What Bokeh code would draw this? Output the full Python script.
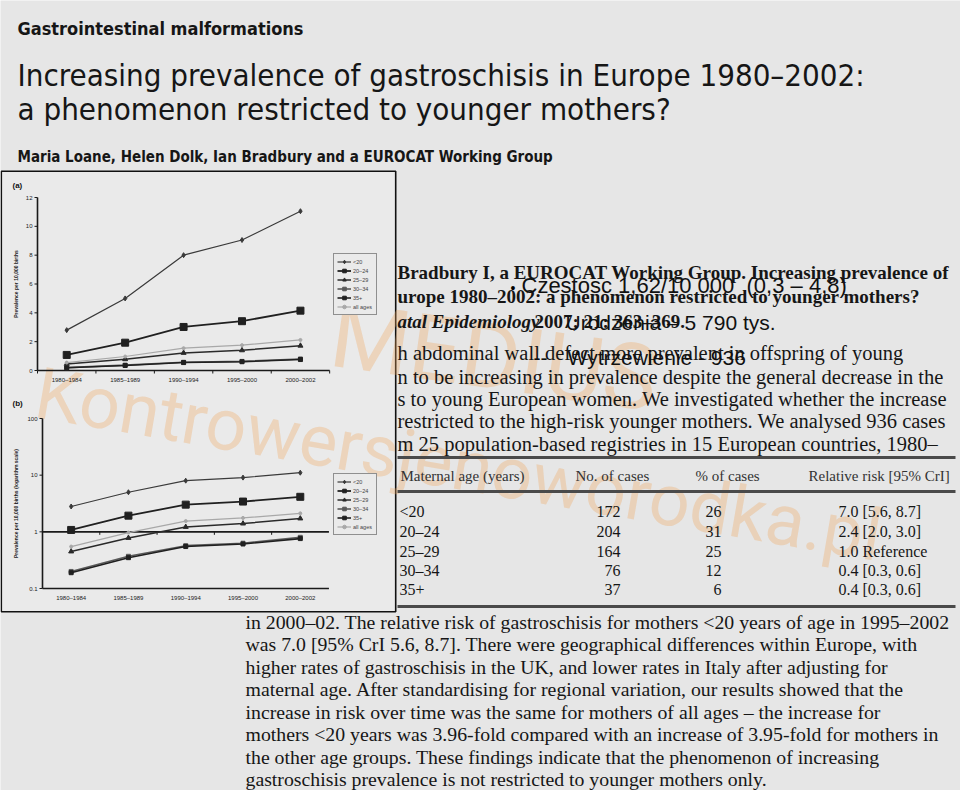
import math
from bokeh.plotting import figure
from bokeh.models import (Range1d, Legend, LegendItem, ColumnDataSource, LinearScale, LogScale)
from bokeh.core.properties import value
from bokeh.embed import file_html
from bokeh.resources import INLINE

# ---------------- data ----------------
periods = ["1980–1984", "1985–1989", "1990–1994", "1995–2000", "2000–2002"]
series_names = ["<20", "20–24", "25–29", "30–34", "35+", "all ages"]
prev_lt20 = [2.8, 5.0, 8.0, 9.05, 11.05]
prev_20_24 = [1.08, 1.93, 3.02, 3.42, 4.15]
prev_25_29 = [0.45, 0.78, 1.22, 1.40, 1.72]
prev_30_34 = [0.20, 0.37, 0.57, 0.63, 0.80]
prev_35plus = [0.19, 0.35, 0.55, 0.61, 0.76]
prev_all = [0.55, 0.97, 1.55, 1.76, 2.12]
yticks_a = [0, 2, 4, 6, 8, 10, 12]
ytick_labels_a = ["0", "2", "4", "6", "8", "10", "12"]
yticks_b = [0.1, 1, 10, 100]
ytick_labels_b = ["0.1", "1", "10", "100"]

table_header = ["Maternal age (years)", "No. of cases", "% of cases", "Relative risk [95% CrI]"]
table_ages = ["<20", "20–24", "25–29", "30–34", "35+"]
table_cases = ["172", "204", "164", "76", "37"]
table_pct = ["26", "31", "25", "12", "6"]
table_rr = ["7.0 [5.6, 8.7]", "2.4 [2.0, 3.0]", "1.0 Reference", "0.4 [0.3, 0.6]", "0.4 [0.3, 0.6]"]

header_kicker = "Gastrointestinal malformations"
title_lines = ["Increasing prevalence of gastroschisis in Europe 1980–2002:",
               "a phenomenon restricted to younger mothers?"]
authors = "Maria Loane, Helen Dolk, Ian Bradbury and a EUROCAT Working Group"

citation_lines = ["Bradbury I, a EUROCAT Working Group. Increasing prevalence of",
                  "urope 1980–2002: a phenomenon restricted to younger mothers?"]
citation_journal = "atal Epidemiology"
citation_ref = "2007; 21: 363–369."
abstract_lines = ["h abdominal wall defect more prevalent in offspring of young",
                  "n to be increasing in prevalence despite the general decrease in the",
                  "s to young European women. We investigated whether the increase",
                  "restricted to the high-risk younger mothers. We analysed 936 cases",
                  "m 25 population-based registries in 15 European countries, 1980–"]
bottom_lines = ["in 2000–02. The relative risk of gastroschisis for mothers <20 years of age in 1995–2002",
                "was 7.0 [95% CrI 5.6, 8.7]. There were geographical differences within Europe, with",
                "higher rates of gastroschisis in the UK, and lower rates in Italy after adjusting for",
                "maternal age. After standardising for regional variation, our results showed that the",
                "increase in risk over time was the same for mothers of all ages – the increase for",
                "mothers <20 years was 3.96-fold compared with an increase of 3.95-fold for mothers in",
                "the other age groups. These findings indicate that the phenomenon of increasing",
                "gastroschisis prevalence is not restricted to younger mothers only."]
overlay_lines = ["Czestosc 1,62/10 000\u00a0\u00a0(0,3 – 4,8)", "Urodzenia – 5 790 tys.", "Wytrzewienie - 936"]
watermark_texts = ["MEDIUS", "Kontrowersjenoworodka.pl"]

# ---------------- styles ----------------
W, HT = 960, 790
BG = "#e6e6e6"
BOX_BG = "#eaeaea"
INK = "#161616"
AX = "#1a1a1a"
NARROW = "Liberation Sans Narrow, DejaVu Sans Condensed, Roboto"
SERIF = "Liberation Serif"
SANS = "Liberation Sans"
WM_FONT = "Roboto"
WM_COLOR = "#f1a55a"
TICK = 3.0  # px

series_styles = [
    dict(color="#3a3a3a", lw=1.2, marker="diamond", size=5),
    dict(color="#202020", lw=1.8, marker="square", size=7),
    dict(color="#2a2a2a", lw=1.5, marker="triangle", size=5),
    dict(color="#5a5a5a", lw=1.6, marker="square", size=4),
    dict(color="#202020", lw=1.6, marker="square", size=4),
    dict(color="#a8a8a8", lw=1.2, marker="circle", size=3),
]
series_values = [prev_lt20, prev_20_24, prev_25_29, prev_30_34, prev_35plus, prev_all]

p = figure(width=W, height=HT, x_range=Range1d(0, W), y_range=Range1d(HT, 0),
           x_axis_type=None, y_axis_type=None, output_backend="svg", toolbar_location=None,
           min_border=0, background_fill_color=BG, border_fill_color=BG, outline_line_color=None)


def put(xs, ys, texts, size, font=SERIF, style="normal", color=INK, align="left",
        baseline="middle", angle=0.0, alpha=1.0, x_offset=0, y_offset=0, **rk):
    src = ColumnDataSource(dict(x=xs, y=ys, t=texts))
    return p.text(x="x", y="y", text="t", source=src, text_font=value(font),
                  text_font_size=value(size), text_font_style=value(style),
                  text_color=color, text_alpha=alpha, text_align=value(align),
                  text_baseline=value(baseline), angle=angle,
                  x_offset=x_offset, y_offset=y_offset, **rk)


# ---------------- inset box (background of the two charts) ----------------
p.quad(left=[0.8], right=[395.2], top=[170.8], bottom=[611.2], fill_color=BOX_BG,
       line_color="#111111", line_width=1.6)

# ---------------- watermark (behind the page content) ----------------
put([331], [334], [watermark_texts[0]], "91px", font=WM_FONT, color=WM_COLOR,
    angle=math.radians(-8), alpha=0.32)
put([36], [392], [watermark_texts[1]], "72px", font=WM_FONT, color=WM_COLOR,
    angle=math.radians(-9.7), alpha=0.32)

# ---------------- header ----------------
put([17], [28], [header_kicker], "18px", font=NARROW, style="bold")
put([17, 17], [74, 108], title_lines, "31px", font=NARROW)
put([17], [156], [authors], "15px", font=NARROW, style="bold")


def chart(key, log, xsrc, xtgt, ysrc, ytgt, yticks, ylabels, ylabel, ylabel_x, tag, tag_xy,
          legend_loc):
    """Chart drawn in its own named x/y ranges (and scale) laid over the page."""
    xpx = (xtgt[1] - xtgt[0]) / (xsrc[1] - xsrc[0])
    x_start = xsrc[0] - xtgt[0] / xpx
    x_end = xsrc[0] + (W - xtgt[0]) / xpx
    if log:
        ypx = (ytgt[0] - ytgt[1]) / (math.log10(ysrc[1]) - math.log10(ysrc[0]))
        y_start = ysrc[0] * 10 ** (-(HT - ytgt[0]) / ypx)
        y_end = ysrc[1] * 10 ** (ytgt[1] / ypx)

        def down(v):
            return v * 10 ** (-TICK / ypx)
    else:
        ypx = (ytgt[0] - ytgt[1]) / (ysrc[1] - ysrc[0])
        y_start = ysrc[0] - (HT - ytgt[0]) / ypx
        y_end = ysrc[1] + ytgt[1] / ypx

        def down(v):
            return v - TICK / ypx
    p.extra_x_ranges = {**p.extra_x_ranges, key: Range1d(x_start, x_end)}
    p.extra_y_ranges = {**p.extra_y_ranges, key: Range1d(y_start, y_end)}
    p.extra_x_scales = {**p.extra_x_scales, key: LinearScale()}
    p.extra_y_scales = {**p.extra_y_scales, key: LogScale() if log else LinearScale()}
    rk = dict(x_range_name=key, y_range_name=key)

    xs = list(range(1, len(periods) + 1))
    bounds = [i + 0.5 for i in range(len(periods) + 1)]
    x_lo, x_hi = bounds[0], bounds[-1]
    y_lo, y_hi = yticks[0], yticks[-1]
    n = len(yticks)
    # y axis
    p.segment(x0=[x_lo], y0=[y_lo], x1=[x_lo], y1=[y_hi], line_color=AX, line_width=1.6, **rk)
    p.segment(x0=[x_lo] * n, y0=yticks, x1=[x_lo - TICK / xpx] * n, y1=yticks,
              line_color=AX, line_width=1, **rk)
    put([x_lo] * n, yticks, ylabels, "6px", font=SANS, color="#222222", align="right",
        x_offset=-5, **rk)
    # category axis (crosses at 1 on the log chart)
    cross = 1 if log else y_lo
    p.segment(x0=[x_lo], y0=[cross], x1=[x_hi], y1=[cross], line_color=AX, line_width=1.6, **rk)
    tb = bounds[1:-1] if log else bounds
    p.segment(x0=tb, y0=[cross] * len(tb), x1=tb, y1=[down(cross)] * len(tb),
              line_color=AX, line_width=1, **rk)
    if log:
        p.segment(x0=[x_lo], y0=[y_lo], x1=[x_hi], y1=[y_lo], line_color=AX, line_width=1.6, **rk)
    put(xs, [y_lo] * len(xs), periods, "6px", font=SANS, color="#222222", align="center",
        baseline="top", y_offset=6, **rk)
    # series
    items = []
    for name, vals, st in zip(series_names, series_values, series_styles):
        src = ColumnDataSource(dict(x=xs, y=vals))
        lr = p.line("x", "y", source=src, line_color=st["color"], line_width=st["lw"], **rk)
        sr = p.scatter("x", "y", source=src, marker=st["marker"], size=st["size"],
                       fill_color=st["color"], line_color=st["color"], **rk)
        items.append(LegendItem(label=name, renderers=[lr, sr]))
    leg = Legend(items=items, location=legend_loc, margin=0, padding=3, spacing=0,
                 glyph_width=14, glyph_height=9, label_height=9, label_standoff=2,
                 label_text_font_size="5.5px", label_text_font=SANS,
                 border_line_color="#333333", border_line_width=1,
                 background_fill_color=BOX_BG, background_fill_alpha=1.0)
    p.add_layout(leg)
    # axis title and panel tag
    put([ylabel_x], [(ytgt[0] + ytgt[1]) / 2], [ylabel], "5px", font=SANS, style="bold",
        color="#222222", align="center", angle=math.pi / 2)
    put([tag_xy[0]], [tag_xy[1]], [tag], "8px", font=SANS, style="bold", color="#111111")


chart("a", False, (0.5, 6.37), (37, 380), (0, 12), (370, 197), yticks_a, ytick_labels_a,
      "Prevalence per 10,000 births", 15, "(a)", (12, 185), (333, HT - 315))
chart("b", True, (0.5, 6.4), (42, 380), (0.1, 100), (588, 418), yticks_b, ytick_labels_b,
      "Prevalence per 10,000 births (logarithm scale)", 15, "(b)", (12, 403), (333, HT - 535))

# ---------------- right text block (paper page) ----------------
put([397, 397], [272, 296], citation_lines, "19px", style="bold")
put([397], [321], [citation_journal], "19px", style="bold italic")
put([534], [321], [citation_ref], "19px", style="bold")
put([397] * len(abstract_lines), [352, 376, 398, 420, 443], abstract_lines, "20.5px")
p.segment(x0=[397, 397, 397], y0=[457, 491, 606], x1=[955, 955, 955], y1=[457, 491, 606],
          line_color="#4a4a4a", line_width=3)
put([400, 575, 695, 808], [475] * 4, table_header, "15px", color="#333333")
row_y = [511, 531, 551, 570, 589]
put([399] * 5, row_y, table_ages, "16px")
put([620] * 5, row_y, table_cases, "16px", align="right")
put([721] * 5, row_y, table_pct, "16px", align="right")
put([838] * 5, row_y, table_rr, "16px")

# ---------------- bottom paragraph ----------------
put([245] * len(bottom_lines), [621 + 22.5 * i for i in range(len(bottom_lines))],
    bottom_lines, "19.8px")

# ---------------- slide overlay (bullet points) ----------------
put([510], [287], ["•"], "14px", font=SANS, color="#000000")
put([521], [285], [overlay_lines[0]], "22px", font=SANS, color="#111111")
put([565], [322], [overlay_lines[1]], "21px", font=SANS, color="#111111")
put([533], [357], ["--"], "21px", font=SANS, color="#111111")
put([567], [357], [overlay_lines[2]], "21px", font=SANS, color="#111111")

open("out.html", "w").write(file_html(p, INLINE))
